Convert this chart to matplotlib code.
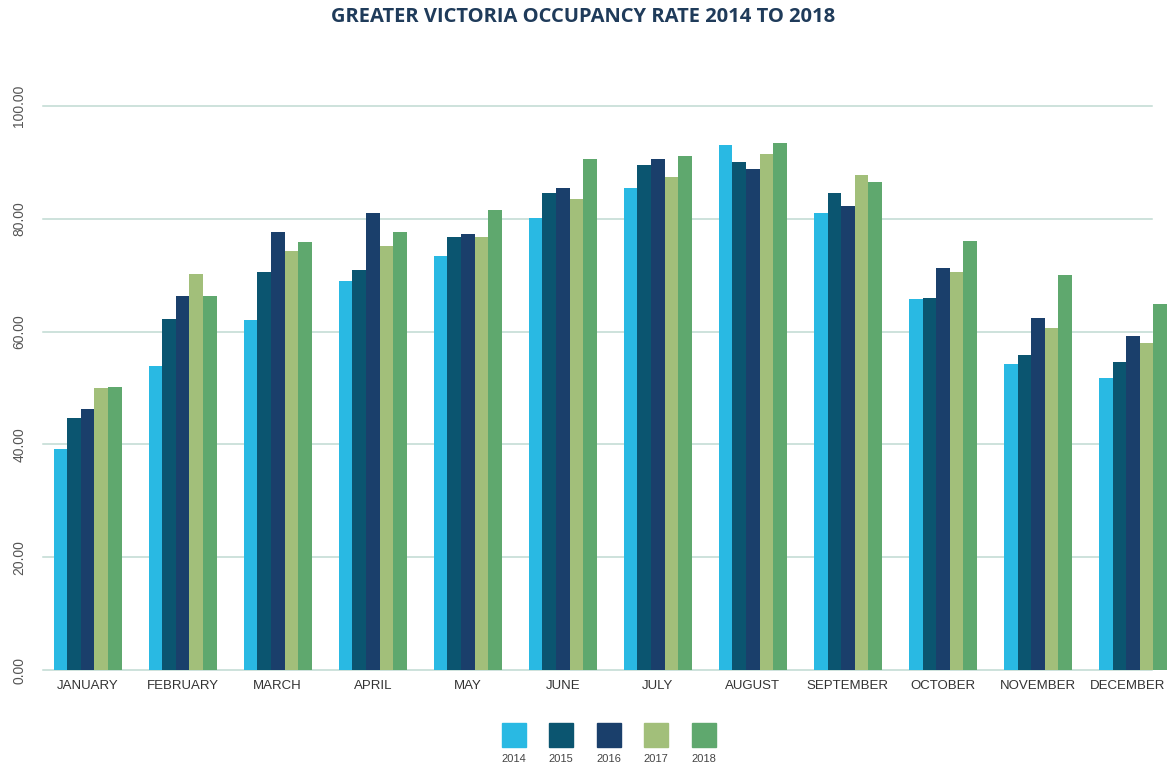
import numpy as np
import matplotlib
matplotlib.use('Agg')
import matplotlib.pyplot as plt
import matplotlib.transforms as mtransforms

# occupancy rate by month
months = ['JANUARY', 'FEBRUARY', 'MARCH', 'APRIL', 'MAY', 'JUNE', 'JULY',
          'AUGUST', 'SEPTEMBER', 'OCTOBER', 'NOVEMBER', 'DECEMBER']
years = ['2014', '2015', '2016', '2017', '2018']

rate_2014 = [39.1, 53.9, 62.0, 69.0, 73.4, 80.1, 85.4, 93.1, 81.1, 65.7, 54.2, 51.7]
rate_2015 = [44.7, 62.2, 70.6, 70.9, 76.8, 84.5, 89.6, 90.0, 84.5, 66.0, 55.8, 54.6]
rate_2016 = [46.2, 66.3, 77.7, 81.1, 77.3, 85.4, 90.6, 88.8, 82.2, 71.2, 62.4, 59.2]
rate_2017 = [50.0, 70.3, 74.3, 75.2, 76.8, 83.5, 87.4, 91.5, 87.8, 70.6, 60.6, 57.9]
rate_2018 = [50.2, 66.3, 75.9, 77.7, 81.6, 90.6, 91.2, 93.4, 86.6, 76.1, 70.1, 64.9]

series = [rate_2014, rate_2015, rate_2016, rate_2017, rate_2018]
colors = ['#29b9e3', '#0b5570', '#1a3f6b', '#a2bf7a', '#5fa86e']

plt.rcParams['font.family'] = ['Liberation Sans', 'DejaVu Sans']

fig = plt.figure(figsize=(11.67, 7.66), dpi=100)
ax = fig.add_axes([43 / 1167, 96 / 766, 1109 / 1167, 564 / 766])

ind = np.arange(len(months))
width = 0.143

for i, vals in enumerate(series):
    ax.bar(ind + (i - 2) * width, vals, width, color=colors[i],
           label=years[i], clip_on=False, zorder=3)

ax.set_xlim(-0.47, 11.2)
ax.set_ylim(0, 100)
ax.set_yticks(np.arange(0, 101, 20))
ax.set_yticklabels(['%.2f' % v for v in np.arange(0, 101, 20)],
                   rotation=90, va='center', fontsize=10, color='#555555')
ax.set_xticks(ind)
ax.set_xticklabels(months, fontsize=9.5, color='#333333')
ax.tick_params(axis='both', length=0)
ax.tick_params(axis='y', pad=12)
ax.tick_params(axis='x', pad=7)

# last label sits at the right edge, nudge it in a little
dec = ax.get_xticklabels()[-1]
dec.set_transform(dec.get_transform() + mtransforms.ScaledTranslation(-5 / 100, 0, fig.dpi_scale_trans))

ax.grid(axis='y', color='#c0dad2', linewidth=1.1, zorder=0)
ax.set_axisbelow(True)
for s in ax.spines.values():
    s.set_visible(False)
for line in ax.get_ygridlines():
    line.set_clip_on(False)

fig.text(583 / 1167, 1 - 17.5 / 766, 'GREATER VICTORIA OCCUPANCY RATE 2014 TO 2018',
         ha='center', va='center', fontsize=14.5, fontweight='bold',
         color='#1f3b5a', family=['Open Sans', 'DejaVu Sans'])

# legend: colored squares with year labels underneath
lax = fig.add_axes([490 / 1167, 0, 237.5 / 1167, 60 / 766])
lax.set_xlim(-0.5, 4.5)
lax.set_ylim(0, 60)
lax.axis('off')
for i, yr in enumerate(years):
    lax.plot(i, 31, marker='s', markersize=17, color=colors[i], linestyle='none')
    lax.text(i, 7, yr, ha='center', va='center', fontsize=8, color='#444444')

fig.savefig('out.png', dpi=100)
